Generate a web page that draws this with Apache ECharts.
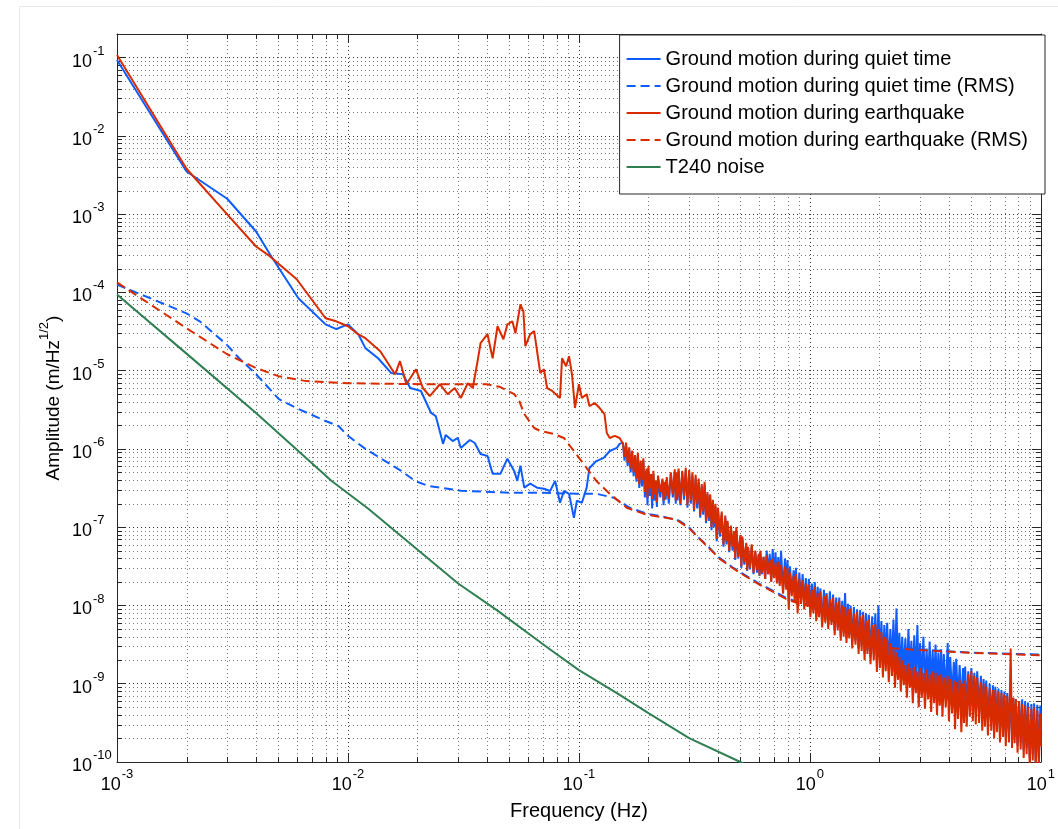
<!DOCTYPE html>
<html>
<head>
<meta charset="utf-8">
<title>Ground motion spectra</title>
<script src="https://cdn.jsdelivr.net/npm/echarts@6.0.0/dist/echarts.min.js"></script>
<style>
  html, body { margin: 0; padding: 0; background: #fff; }
  #main { width: 1058px; height: 829px; }
</style>
</head>
<body>
<div id="main"></div>
<script>
var FONT = '"Liberation Sans", Arial, Helvetica, sans-serif';
var BLUE = '#0f5cff', RED = '#d92b00', GREEN = '#2f7f52', AXIS = '#262626';

var names = [
  'Ground motion during quiet time',
  'Ground motion during quiet time (RMS)',
  'Ground motion during earthquake',
  'Ground motion during earthquake (RMS)',
  'T240 noise'
];

// axis range and decades (minor ticks at 2..9 of each decade)
var xMin = 1e-3, xMax = 10, yMin = 1e-10, yMax = 0.2;
var xDecades = [0.001, 0.01, 0.1, 1];
var yDecades = [1e-10, 1e-9, 1e-8, 1e-7, 1e-6, 1e-5, 1e-4, 1e-3, 1e-2];
var minorSteps = [2, 3, 4, 5, 6, 7, 8, 9];

// low frequency part, [frequency Hz, amplitude m/Hz^1/2]
var quietLow = [
  [0.001,9.3e-2],[0.002,3.5e-3],[0.003,1.57e-3],[0.004,6.0e-4],[0.0046,3.05e-4],[0.0061,8.4e-5],
  [0.008,3.9e-5],[0.0089,3.4e-5],[0.01,3.9e-5],[0.0111,2.9e-5],[0.0119,1.94e-5],[0.0135,1.44e-5],
  [0.0154,9.3e-6],[0.0173,9.0e-6],[0.0186,6.0e-6],[0.0207,5.5e-6],[0.0229,2.88e-6],[0.024,2.63e-6],
  [0.0258,1.16e-6],[0.0265,1.51e-6],[0.0284,1.26e-6],[0.0299,1.38e-6],[0.0308,1.03e-6],[0.0337,1.3e-6],
  [0.0354,1.19e-6],[0.0375,8.6e-7],[0.0402,8.1e-7],[0.0423,4.8e-7],[0.0457,4.8e-7],[0.049,7.5e-7],
  [0.0525,5.2e-7],[0.0541,3.9e-7],[0.0558,6.1e-7],[0.058,3.2e-7],[0.0615,3.6e-7],[0.0659,3.2e-7],
  [0.0706,3.1e-7],[0.075,2.9e-7],[0.0789,3.9e-7],[0.0828,2.05e-7],[0.0861,2.9e-7],[0.0906,2.67e-7],
  [0.0951,1.32e-7],[0.098,2.18e-7],[0.103,2.05e-7],[0.108,3.2e-7],[0.111,5.7e-7],[0.119,7.0e-7],
  [0.128,7.7e-7],[0.136,9.4e-7],[0.146,1.03e-6],[0.15,1.16e-6]
];

var quakeLow = [
  [0.001,0.108],[0.002,3.8e-3],[0.003,9.9e-4],[0.004,3.86e-4],[0.0046,2.88e-4],[0.006,1.47e-4],
  [0.008,4.67e-5],[0.0089,4.27e-5],[0.01,3.69e-5],[0.0111,2.9e-5],[0.0119,2.6e-5],[0.0138,1.77e-5],
  [0.016,9.0e-6],[0.0168,1.32e-5],[0.0179,6.7e-6],[0.0197,1.04e-5],[0.0211,6.0e-6],[0.0226,4.73e-6],
  [0.025,6.7e-6],[0.027,5.0e-6],[0.029,6.0e-6],[0.0308,4.47e-6],[0.033,6.9e-6],[0.0347,6.0e-6],
  [0.0364,1.32e-5],[0.0375,2.24e-5],[0.0402,2.92e-5],[0.0423,1.44e-5],[0.0444,3.69e-5],[0.0471,2.52e-5],
  [0.049,3.9e-5],[0.0515,4.27e-5],[0.0531,3.0e-5],[0.0558,7.0e-5],[0.0575,5.7e-5],[0.0586,2.05e-5],
  [0.0615,2.92e-5],[0.064,3.2e-5],[0.068,9.3e-6],[0.0706,1.04e-5],[0.0728,6.0e-6],[0.0766,5.5e-6],
  [0.0828,4.47e-6],[0.0845,1.44e-5],[0.088,1.14e-5],[0.0906,1.53e-5],[0.0933,9.0e-6],[0.0961,3.33e-6],
  [0.1,6.7e-6],[0.103,4.47e-6],[0.108,5.0e-6],[0.111,3.53e-6],[0.117,3.86e-6],[0.123,3.33e-6],
  [0.129,2.79e-6],[0.132,1.6e-6],[0.136,1.38e-6],[0.143,1.47e-6],[0.15,1.38e-6]
];

// noisy high frequency part: shared frequencies, amplitudes read as log10(m/Hz^1/2)
var hfFreq = [
  0.155,0.1575,0.16,0.1625,0.165,0.1675,0.17,0.1725,0.175,0.1775,
  0.18,0.1825,0.185,0.1875,0.19,0.193,0.196,0.198,0.2,0.2025,
  0.205,0.2075,0.21,0.2125,0.215,0.2175,0.22,0.225,0.23,0.2325,
  0.235,0.2375,0.24,0.245,0.25,0.255,0.26,0.2625,0.265,0.2675,
  0.27,0.275,0.28,0.285,0.29,0.295,0.3,0.305,0.31,0.315,
  0.32,0.325,0.33,0.335,0.34,0.345,0.35,0.355,0.36,0.365,
  0.37,0.375,0.38,0.385,0.39,0.395,0.4,0.4075,0.415,0.4225,
  0.43,0.435,0.44,0.4475,0.455,0.4625,0.47,0.475,0.48,0.49,
  0.5,0.505,0.51,0.52,0.53,0.535,0.54,0.55,0.56,0.57,
  0.58,0.59,0.6,0.605,0.61,0.62,0.63,0.64,0.65,0.66,
  0.67,0.68,0.69,0.7,0.71,0.72,0.73,0.74,0.75,0.765,
  0.78,0.79,0.8,0.81,0.82,0.835,0.85,0.86,0.87,0.885,
  0.9,0.915,0.93,0.945,0.96,0.975,0.99,1.005,1.02,1.035,
  1.05,1.065,1.08,1.095,1.11,1.13,1.15,1.165,1.18,1.2,
  1.22,1.24,1.26,1.28,1.3,1.32,1.34,1.36,1.38,1.4,
  1.42,1.44,1.46,1.48,1.5,1.525,1.55,1.575,1.6,1.625,
  1.65,1.675,1.7,1.725,1.75,1.775,1.8,1.83,1.86,1.89,
  1.92,1.95,1.98,2.01,2.04,2.07,2.1,2.13,2.16,2.195,
  2.23,2.265,2.3,2.335,2.37,2.405,2.44,2.475,2.51,2.55,
  2.59,2.63,2.67,2.71,2.75,2.79,2.83,2.875,2.92,2.96,
  3.0,3.05,3.1,3.15,3.2,3.25,3.3,3.35,3.4,3.45,
  3.5,3.55,3.6,3.65,3.7,3.75,3.8,3.875,3.95,4.0,
  4.05,4.125,4.2,4.25,4.3,4.375,4.45,4.525,4.6,4.65,
  4.7,4.775,4.85,4.925,5.0,5.075,5.15,5.225,5.3,5.4,
  5.5,5.575,5.65,5.725,5.8,5.9,6.0,6.1,6.2,6.275,
  6.35,6.45,6.55,6.65,6.75,6.85,6.95,7.05,7.15,7.275,
  7.4,7.5,7.6,7.7,7.8,7.925,8.05,8.175,8.3,8.425,
  8.55,8.675,8.8,8.95,9.1,9.225,9.35,9.5,9.65,9.8,
  9.95,10
];

var quietHfLog = [
  -5.92,-6.15,-5.95,-6.22,-6.00,-6.30,-6.05,-6.35,-6.10,-6.42,
  -6.08,-6.50,-6.18,-6.48,-6.15,-6.62,-6.28,-6.72,-6.30,-6.60,
  -6.35,-6.76,-6.32,-6.66,-6.42,-6.74,-6.38,-6.62,-6.40,-6.72,
  -6.45,-6.65,-6.40,-6.70,-6.32,-6.62,-6.30,-6.70,-6.34,-6.66,
  -6.28,-6.72,-6.30,-6.65,-6.28,-6.75,-6.30,-6.70,-6.34,-6.80,
  -6.38,-6.76,-6.42,-6.88,-6.48,-6.84,-6.46,-6.95,-6.58,-6.92,
  -6.62,-7.04,-6.68,-7.00,-6.74,-7.18,-6.78,-7.12,-6.84,-7.25,
  -6.88,-7.22,-6.95,-7.32,-7.00,-7.30,-7.08,-7.42,-7.04,-7.40,
  -7.12,-7.52,-7.15,-7.48,-7.22,-7.56,-7.26,-7.54,-7.24,-7.60,
  -7.32,-7.58,-7.36,-7.62,-7.32,-7.60,-7.38,-7.66,-7.30,-7.60,
  -7.34,-7.68,-7.28,-7.62,-7.32,-7.70,-7.38,-7.72,-7.30,-7.80,
  -7.40,-7.78,-7.42,-7.95,-7.50,-7.86,-7.55,-7.92,-7.52,-8.00,
  -7.58,-7.95,-7.60,-8.00,-7.65,-8.00,-7.66,-8.10,-7.72,-8.05,
  -7.70,-8.15,-7.76,-8.10,-7.78,-8.22,-7.80,-8.18,-7.84,-8.25,
  -7.82,-8.22,-7.86,-8.32,-7.90,-8.28,-7.90,-8.40,-7.94,-8.35,
  -7.84,-8.42,-7.98,-8.38,-8.00,-8.48,-8.02,-8.45,-8.05,-8.55,
  -8.06,-8.52,-8.08,-8.62,-8.10,-8.58,-8.12,-8.66,-8.14,-8.62,
  -8.10,-8.72,-8.00,-8.68,-8.20,-8.78,-8.25,-8.72,-8.22,-8.82,
  -8.30,-8.76,-8.18,-8.86,-8.04,-8.80,-8.35,-8.90,-8.40,-8.85,
  -8.42,-8.95,-8.30,-8.88,-8.45,-8.98,-8.38,-8.92,-8.25,-9.02,
  -8.48,-8.96,-8.40,-9.05,-8.55,-9.00,-8.46,-9.10,-8.58,-9.02,
  -8.50,-9.12,-8.60,-9.05,-8.56,-9.15,-8.62,-9.10,-8.48,-9.20,
  -8.66,-9.15,-8.72,-9.28,-8.68,-9.22,-8.76,-9.32,-8.80,-9.25,
  -8.78,-9.35,-8.84,-9.22,-8.80,-9.28,-8.86,-9.32,-8.84,-9.30,
  -8.90,-9.40,-8.94,-9.38,-8.96,-9.48,-9.00,-9.45,-9.02,-9.55,
  -9.04,-9.50,-9.06,-9.60,-9.08,-9.55,-9.10,-9.68,-9.12,-9.62,
  -9.16,-9.72,-9.18,-9.68,-9.20,-9.78,-9.22,-9.75,-9.20,-9.85,
  -9.22,-9.82,-9.24,-9.95,-9.26,-9.90,-9.25,-10.00,-9.27,-9.95,
  -9.28,-9.60
];

var quakeHfLog = [
  -5.93,-6.10,-5.92,-6.18,-5.98,-6.25,-6.02,-6.30,-6.08,-6.38,
  -6.05,-6.45,-6.15,-6.40,-6.12,-6.55,-6.25,-6.62,-6.22,-6.50,
  -6.32,-6.64,-6.28,-6.58,-6.40,-6.68,-6.34,-6.55,-6.38,-6.66,
  -6.42,-6.60,-6.36,-6.64,-6.30,-6.58,-6.26,-6.66,-6.30,-6.62,
  -6.25,-6.70,-6.28,-6.60,-6.24,-6.72,-6.27,-6.66,-6.30,-6.78,
  -6.33,-6.70,-6.38,-6.85,-6.45,-6.80,-6.42,-6.92,-6.55,-6.88,
  -6.58,-7.00,-6.65,-6.95,-6.70,-7.15,-6.75,-7.08,-6.80,-7.22,
  -6.85,-7.18,-6.92,-7.30,-6.98,-7.25,-7.05,-7.40,-7.00,-7.38,
  -7.10,-7.50,-7.12,-7.45,-7.20,-7.55,-7.25,-7.52,-7.22,-7.58,
  -7.30,-7.55,-7.34,-7.62,-7.30,-7.58,-7.38,-7.66,-7.36,-7.60,
  -7.42,-7.70,-7.40,-7.65,-7.45,-7.72,-7.44,-7.75,-7.48,-7.85,
  -7.50,-7.80,-7.52,-8.05,-7.58,-7.88,-7.62,-7.95,-7.60,-8.10,
  -7.66,-7.98,-7.68,-8.05,-7.72,-8.02,-7.74,-8.15,-7.80,-8.10,
  -7.76,-8.20,-7.84,-8.15,-7.82,-8.28,-7.88,-8.22,-7.86,-8.30,
  -7.92,-8.25,-7.90,-8.38,-7.96,-8.32,-7.94,-8.45,-8.00,-8.40,
  -8.02,-8.48,-8.05,-8.42,-8.04,-8.55,-8.10,-8.50,-8.08,-8.62,
  -8.14,-8.58,-8.12,-8.70,-8.20,-8.62,-8.18,-8.75,-8.25,-8.70,
  -8.24,-8.85,-8.30,-8.80,-8.34,-8.92,-8.40,-8.84,-8.42,-8.98,
  -8.48,-8.90,-8.55,-9.05,-8.60,-8.95,-8.66,-9.10,-8.70,-9.02,
  -8.76,-9.18,-8.74,-9.05,-8.80,-9.25,-8.78,-9.12,-8.84,-9.30,
  -8.80,-9.18,-8.86,-9.32,-8.82,-9.20,-8.88,-9.36,-8.84,-9.25,
  -8.86,-9.40,-8.90,-9.28,-8.88,-9.42,-8.92,-9.30,-8.90,-9.48,
  -8.94,-9.38,-8.96,-9.58,-8.98,-9.45,-8.95,-9.62,-9.00,-9.50,
  -8.96,-9.55,-8.88,-9.42,-8.84,-9.48,-8.90,-9.52,-8.92,-9.50,
  -8.98,-9.60,-9.00,-9.55,-9.04,-9.66,-9.06,-9.60,-9.08,-9.70,
  -9.08,-9.62,-9.10,-9.75,-9.12,-9.68,-9.14,-9.80,-9.16,-9.75,
  -8.55,-9.82,-9.18,-9.76,-9.20,-9.88,-9.22,-9.84,-9.26,-9.95,
  -9.28,-9.90,-9.30,-10.05,-9.32,-9.98,-9.30,-10.10,-9.34,-10.05,
  -9.38,-9.80
];

var quietRms = [
  [0.001,1.26e-4],[0.002,5.4e-5],[0.00228,4.27e-5],[0.00297,2.18e-5],[0.00338,1.44e-5],[0.004,9.0e-6],
  [0.00502,4.33e-6],[0.0061,3.24e-6],[0.008,2.27e-6],[0.0091,1.96e-6],[0.01,1.47e-6],[0.0119,1.0e-6],
  [0.0145,7.0e-7],[0.017,5.25e-7],[0.0195,3.9e-7],[0.0222,3.38e-7],[0.0308,2.92e-7],[0.0505,2.75e-7],
  [0.0706,2.75e-7],[0.098,2.67e-7],[0.119,2.67e-7],[0.1415,2.38e-7],[0.166,1.77e-7],[0.196,1.49e-7],
  [0.232,1.36e-7],[0.272,1.21e-7],[0.3,9.9e-8],[0.331,7.3e-8],[0.366,5.5e-8],[0.404,4.1e-8],
  [0.464,3.05e-8],[0.528,2.41e-8],[0.6,1.91e-8],[0.69,1.55e-8],[0.785,1.26e-8],[0.893,1.09e-8],
  [1.026,1.0e-8],[1.3,6.0e-9],[1.6,4.0e-9],[2.1,2.95e-9],[2.84,2.75e-9],[5,2.5e-9],[10,2.35e-9]
];

var quakeRms = [
  [0.001,1.34e-4],[0.002,3.48e-5],[0.003,1.62e-5],[0.004,1.08e-5],[0.005,8.5e-6],[0.0066,7.35e-6],
  [0.01,6.9e-6],[0.0222,6.7e-6],[0.04,6.7e-6],[0.0457,6.17e-6],[0.0525,5.0e-6],[0.0552,4.08e-6],
  [0.058,2.79e-6],[0.064,1.85e-6],[0.068,1.7e-6],[0.078,1.55e-6],[0.0861,1.38e-6],[0.0951,9.4e-7],
  [0.108,5.7e-7],[0.119,3.9e-7],[0.136,2.67e-7],[0.161,1.77e-7],[0.196,1.45e-7],[0.264,1.25e-7],
  [0.3,9.7e-8],[0.331,7.2e-8],[0.366,5.4e-8],[0.404,4.0e-8],[0.464,3.0e-8],[0.528,2.35e-8],
  [0.6,1.87e-8],[0.69,1.5e-8],[0.785,1.22e-8],[0.893,1.06e-8],[1.026,9.8e-9],[1.3,6.0e-9],
  [1.6,4.0e-9],[2.1,2.9e-9],[2.84,2.72e-9],[5,2.48e-9],[10,2.3e-9]
];

var t240Noise = [
  [0.001,9.4e-5],[0.002,1.65e-5],[0.004,2.88e-6],[0.0085,3.9e-7],[0.01225,1.72e-7],[0.03,1.91e-8],
  [0.0444,8.6e-9],[0.0728,2.92e-9],[0.1,1.49e-9],[0.146,7.6e-10],[0.2,4.2e-10],[0.3,2.02e-10],
  [0.5,1.0e-10],[0.6,7.5e-11]
];

function withHf(low, logs) {
  return low.concat(hfFreq.map(function (f, i) { return [f, Math.pow(10, logs[i])]; }));
}
var quietPsd = withHf(quietLow, quietHfLog);
var quakePsd = withHf(quakeLow, quakeHfLog);

// minor tick / grid positions
var xMinor = [], yMinor = [];
xDecades.forEach(function (d) { minorSteps.forEach(function (m) { xMinor.push([d * m, yMin]); }); });
yDecades.forEach(function (d) { minorSteps.forEach(function (m) { yMinor.push([xMin, d * m]); }); });

function px(v) { return Math.round(v) + 0.5; }

function xMinorItem(params, api) {
  var b = api.coord([api.value(0), yMin]), t = api.coord([api.value(0), yMax]);
  var x = px(b[0]);
  return { type: 'group', children: [
    { type: 'line', shape: { x1: x, y1: b[1], x2: x, y2: t[1] }, style: { stroke: '#7a7a7a', lineWidth: 1, lineDash: [1, 3] } },
    { type: 'line', shape: { x1: x, y1: b[1], x2: x, y2: b[1] - 5 }, style: { stroke: AXIS, lineWidth: 1 } },
    { type: 'line', shape: { x1: x, y1: t[1], x2: x, y2: t[1] + 5 }, style: { stroke: AXIS, lineWidth: 1 } }
  ]};
}

function yMinorItem(params, api) {
  var l = api.coord([xMin, api.value(1)]), r = api.coord([xMax, api.value(1)]);
  var y = px(l[1]);
  return { type: 'group', children: [
    { type: 'line', shape: { x1: l[0], y1: y, x2: r[0], y2: y }, style: { stroke: '#7a7a7a', lineWidth: 1, lineDash: [1, 3] } },
    { type: 'line', shape: { x1: l[0], y1: y, x2: l[0] + 5, y2: y }, style: { stroke: AXIS, lineWidth: 1 } },
    { type: 'line', shape: { x1: r[0], y1: y, x2: r[0] - 5, y2: y }, style: { stroke: AXIS, lineWidth: 1 } }
  ]};
}

function powLabel(v) {
  var lg = Math.log10(v), e = Math.round(lg);
  if (Math.abs(lg - e) > 1e-6) return '';
  return '{b|10}{e|' + e + '}';
}

// base number pushed down, exponent raised
var tickRich = {
  b: { fontSize: 18, padding: [8, 0, 0, 0], fontFamily: FONT, color: '#000' },
  e: { fontSize: 13, padding: [0, 0, 13, 1], fontFamily: FONT, color: '#000' }
};

function logAxis(extra) {
  var base = {
    type: 'log', logBase: 10, splitNumber: 10,
    axisLine: { show: true, onZero: false, lineStyle: { color: AXIS, width: 1 } },
    axisTick: { show: true, inside: true, length: 9, lineStyle: { color: AXIS, width: 1 } },
    splitLine: { show: false },
    axisLabel: { show: false }
  };
  return Object.assign(base, extra);
}

var chart = echarts.init(document.getElementById('main'), null, { renderer: 'canvas' });

chart.setOption({
  animation: false,
  backgroundColor: '#fff',
  textStyle: { fontFamily: FONT },
  grid: { left: 117, right: 11, top: 34, bottom: 67, containLabel: false },
  graphic: [{
    type: 'rect', left: 17, top: 4, silent: true, z: -10,
    shape: { width: 1100, height: 900 },
    style: { fill: 'none', stroke: '#e8e8e8', lineWidth: 1 }
  }],
  legend: {
    data: names, orient: 'vertical', right: 13, top: 35,
    backgroundColor: '#fff', borderColor: AXIS, borderWidth: 1, borderRadius: 0,
    padding: [14, 17, 17, 6], itemWidth: 34, itemHeight: 20, itemGap: 7,
    itemStyle: { opacity: 0 },
    textStyle: { fontSize: 20, lineHeight: 20, color: '#000', fontFamily: FONT },
    selectedMode: false
  },
  xAxis: [
    logAxis({
      position: 'bottom', min: xMin, max: xMax,
      splitLine: { show: true, lineStyle: { color: '#333', width: 1, type: [1, 3] } },
      axisLabel: { show: true, margin: 6, formatter: powLabel, rich: tickRich },
      name: 'Frequency (Hz)', nameLocation: 'middle', nameGap: 39,
      nameTextStyle: { fontSize: 20, color: '#000', fontFamily: FONT }
    }),
    logAxis({ position: 'top', min: xMin, max: xMax })
  ],
  yAxis: [
    logAxis({
      position: 'left', min: yMin, max: yMax,
      splitLine: { show: true, lineStyle: { color: '#333', width: 1, type: [1, 3] } },
      axisLabel: { show: true, margin: 45, align: 'left', formatter: powLabel, rich: tickRich, showMaxLabel: false },
      name: '{b|Amplitude (m/Hz}{e|1/2}{b|)}', nameLocation: 'middle', nameGap: 54, nameRotate: 90,
      nameMoveOverlap: false,
      nameTextStyle: {
        rich: {
          b: { fontSize: 19, padding: [6, 0, 0, 0], color: '#000', fontFamily: FONT },
          e: { fontSize: 13, padding: [0, 0, 12, 0], color: '#000', fontFamily: FONT }
        }
      }
    }),
    logAxis({ position: 'right', min: yMin, max: yMax })
  ],
  series: [
    { type: 'custom', silent: true, z: 1, data: xMinor, renderItem: xMinorItem, clip: false },
    { type: 'custom', silent: true, z: 1, data: yMinor, renderItem: yMinorItem, clip: false },
    {
      name: names[0], type: 'line', data: quietPsd, symbol: 'none', showSymbol: false, z: 3,
      lineStyle: { color: BLUE, width: 2 }, itemStyle: { color: BLUE }
    },
    {
      name: names[1], type: 'line', data: quietRms, symbol: 'none', showSymbol: false, z: 3,
      lineStyle: { color: BLUE, width: 2, type: [9, 5] }, itemStyle: { color: BLUE }
    },
    {
      name: names[2], type: 'line', data: quakePsd, symbol: 'none', showSymbol: false, z: 3,
      lineStyle: { color: RED, width: 2 }, itemStyle: { color: RED }
    },
    {
      name: names[3], type: 'line', data: quakeRms, symbol: 'none', showSymbol: false, z: 3,
      lineStyle: { color: RED, width: 2, type: [9, 5] }, itemStyle: { color: RED }
    },
    {
      name: names[4], type: 'line', data: t240Noise, symbol: 'none', showSymbol: false, z: 3,
      lineStyle: { color: GREEN, width: 2 }, itemStyle: { color: GREEN }
    }
  ]
});
</script>
</body>
</html>
